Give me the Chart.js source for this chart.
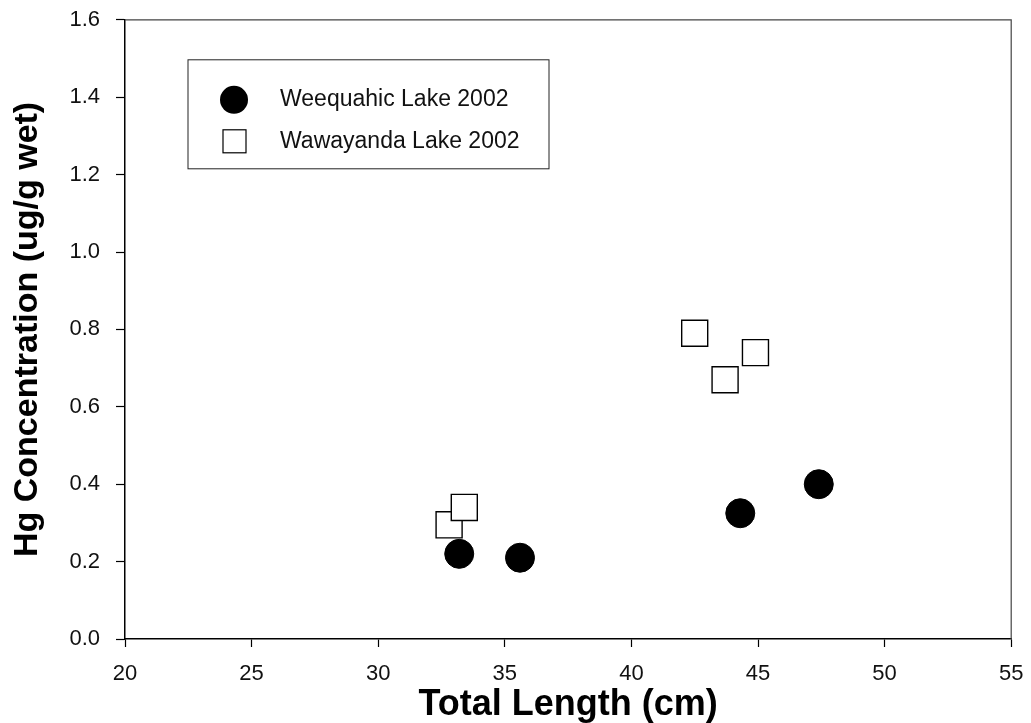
<!DOCTYPE html>
<html>
<head>
<meta charset="utf-8">
<script src="https://cdn.jsdelivr.net/npm/chart.js@4.4.1/dist/chart.umd.min.js"></script>
<style>
  html, body { margin: 0; padding: 0; background: #fff; }
  #wrap { width: 1031px; height: 723px; }
</style>
</head>
<body>
<div id="wrap"><canvas id="chart" width="1031" height="723"></canvas></div>
<script>
const weequahicX = [33.2, 35.6, 44.3, 47.4];
const weequahicY = [0.22, 0.21, 0.325, 0.40];
const wawayandaX = [32.8, 33.4, 42.5, 43.7, 44.9];
const wawayandaY = [0.295, 0.34, 0.79, 0.67, 0.74];
const seriesNames = ['Weequahic Lake 2002', 'Wawayanda Lake 2002'];
const xTicks = [20, 25, 30, 35, 40, 45, 50, 55];
const yTicks = [0, 0.2, 0.4, 0.6, 0.8, 1.0, 1.2, 1.4, 1.6];

const FONT = '"Liberation Sans", Arial, sans-serif';

const toPoints = (xs, ys) => xs.map((x, i) => ({ x: x, y: ys[i] }));

// frame on top/right and the legend box inside the plot
const framePlugin = {
  id: 'frame',
  afterDraw(chart) {
    const { ctx, chartArea: a } = chart;
    ctx.save();
    ctx.strokeStyle = '#444';
    ctx.lineWidth = 1.2;
    ctx.beginPath();
    ctx.moveTo(a.left, a.top);
    ctx.lineTo(a.right, a.top);
    ctx.lineTo(a.right, a.bottom);
    ctx.stroke();

    // legend
    const bx = a.left + 63, by = a.top + 40, bw = 361, bh = 109;
    ctx.strokeStyle = '#222';
    ctx.lineWidth = 1;
    ctx.strokeRect(bx, by, bw, bh);

    ctx.fillStyle = '#000';
    ctx.beginPath();
    ctx.arc(bx + 46, by + 40, 14, 0, Math.PI * 2);
    ctx.fill();

    ctx.fillStyle = '#fff';
    ctx.strokeStyle = '#000';
    ctx.lineWidth = 1.2;
    ctx.fillRect(bx + 35, by + 70, 23, 23);
    ctx.strokeRect(bx + 35, by + 70, 23, 23);

    ctx.fillStyle = '#111';
    ctx.font = '23px ' + FONT;
    ctx.textAlign = 'left';
    ctx.textBaseline = 'middle';
    ctx.fillText(seriesNames[0], bx + 92, by + 40);
    ctx.fillText(seriesNames[1], bx + 92, by + 82);
    ctx.restore();
  }
};

new Chart(document.getElementById('chart').getContext('2d'), {
  type: 'scatter',
  data: {
    datasets: [
      {
        label: seriesNames[1],
        data: toPoints(wawayandaX, wawayandaY),
        pointStyle: 'rect',
        pointRadius: 18.4,
        backgroundColor: '#fff',
        borderColor: '#000',
        borderWidth: 1.4
      },
      {
        label: seriesNames[0],
        data: toPoints(weequahicX, weequahicY),
        pointStyle: 'circle',
        pointRadius: 14.5,
        backgroundColor: '#000',
        borderColor: '#000',
        borderWidth: 1
      }
    ]
  },
  options: {
    responsive: false,
    animation: false,
    layout: { padding: { top: 18, right: 17, left: 0, bottom: 0 } },
    plugins: {
      legend: { display: false },
      tooltip: { enabled: false }
    },
    scales: {
      x: {
        type: 'linear',
        min: 20, max: 55,
        afterBuildTicks: s => { s.ticks = xTicks.map(v => ({ value: v })); },
        afterFit: s => { s.height = 84; s.paddingLeft = 0; s.paddingRight = 0; },
        grid: { drawOnChartArea: false, tickLength: 8, color: '#000', tickWidth: 1.2 },
        border: { color: '#000', width: 1.5 },
        ticks: { color: '#111', padding: 14, font: { size: 22, family: FONT } },
        title: {
          display: true,
          text: 'Total Length (cm)',
          color: '#000',
          padding: { top: 0, bottom: 0 },
          font: { size: 36, weight: 'bold', family: FONT, lineHeight: 1.0 }
        }
      },
      y: {
        type: 'linear',
        min: 0, max: 1.6,
        afterBuildTicks: s => { s.ticks = yTicks.map(v => ({ value: v })); },
        afterFit: s => { s.width = 125; s.paddingTop = 0; s.paddingBottom = 0; },
        grid: { drawOnChartArea: false, tickLength: 9, color: '#000', tickWidth: 1.2 },
        border: { color: '#000', width: 1.5 },
        ticks: {
          color: '#111',
          padding: 16,
          font: { size: 22, family: FONT },
          callback: v => v.toFixed(1)
        },
        title: {
          display: true,
          text: 'Hg Concentration (ug/g wet)',
          color: '#000',
          padding: { top: 11, bottom: 0 },
          font: { size: 34, weight: 'bold', family: FONT, lineHeight: 1.0 }
        }
      }
    }
  },
  plugins: [framePlugin]
});
</script>
</body>
</html>
